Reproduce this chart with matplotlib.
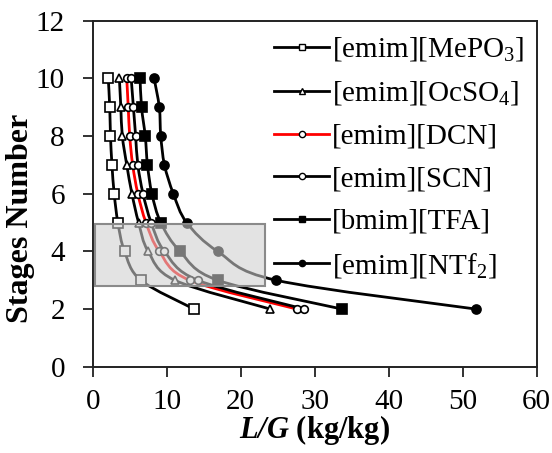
import numpy as np
import matplotlib
matplotlib.use("Agg")
import matplotlib.pyplot as plt
from matplotlib.path import Path
from matplotlib.patches import PathPatch, Rectangle
from matplotlib.lines import Line2D

plt.rcParams['font.family'] = ['Liberation Serif', 'DejaVu Serif']
plt.rcParams['mathtext.fontset'] = 'custom'
plt.rcParams['mathtext.rm'] = 'Liberation Serif'
plt.rcParams['mathtext.it'] = 'Liberation Serif:italic'
plt.rcParams['mathtext.bf'] = 'Liberation Serif:bold'
plt.rcParams['mathtext.bfit'] = 'Liberation Serif:italic:bold'

# Number of stages vs liquid-to-gas ratio for each ionic liquid
stages = [2, 3, 4, 5, 6, 7, 8, 9, 10]
mepo3 = [13.7, 6.5, 4.3, 3.4, 2.9, 2.6, 2.4, 2.3, 2.1]
ocso4 = [24.0, 11.1, 7.5, 6.2, 5.3, 4.6, 4.0, 3.8, 3.6]
dcn = [27.6, 13.1, 9.0, 7.2, 6.1, 5.4, 5.0, 4.8, 4.6]
scn = [28.6, 14.2, 9.7, 7.9, 6.8, 6.1, 5.8, 5.5, 5.2]
tfa = [33.7, 16.9, 11.8, 9.2, 8.0, 7.4, 7.1, 6.6, 6.4]
ntf2 = [51.8, 24.8, 16.9, 12.7, 10.9, 9.7, 9.2, 9.0, 8.3]

labels = ['[emim][MePO$_3$]', '[emim][OcSO$_4$]', '[emim][DCN]',
          '[emim][SCN]', '[bmim][TFA]', '[emim][NTf$_2$]']
series = [mepo3, ocso4, dcn, scn, tfa, ntf2]

# highlighted region (x0, x1, y0, y1)
region_x = [0.3, 23.3]
region_y = [2.8, 4.95]

styles = [
    dict(color='black', marker='s', mfc='white', ms=6.5),
    dict(color='black', marker='^', mfc='white', ms=5.5),
    dict(color='#ff0000', marker='o', mfc='white', mec='black', ms=5.5),
    dict(color='black', marker='o', mfc='white', ms=5.5),
    dict(color='black', marker='s', mfc='black', ms=6.5),
    dict(color='black', marker='o', mfc='black', ms=6.5),
]

fig = plt.figure(figsize=(5.52, 4.53), dpi=100)
ax = fig.add_axes([0.168, 0.1905, 0.804, 0.7635])
ax.set_xlim(0, 60)
ax.set_ylim(0, 12)

XR, YR = 60.0, 12.0
SX, SY = 444.0, 346.0


def smooth_path(xs, ys):
    """Catmull-Rom curve through the points, built as cubic Bezier segments."""
    px = np.asarray(xs, float) / XR * SX
    py = np.asarray(ys, float) / YR * SY
    pts = np.column_stack([px, py])
    n = len(pts)
    verts = [pts[0]]
    codes = [Path.MOVETO]
    for i in range(n - 1):
        p0 = pts[i - 1] if i > 0 else pts[i]
        p1 = pts[i]
        p2 = pts[i + 1]
        p3 = pts[i + 2] if i + 2 < n else pts[i + 1]
        c1 = p1 + (p2 - p0) / 6.0
        c2 = p2 - (p3 - p1) / 6.0
        verts += [c1, c2, p2]
        codes += [Path.CURVE4] * 3
    verts = np.array(verts)
    verts[:, 0] = verts[:, 0] / SX * XR
    verts[:, 1] = verts[:, 1] / SY * YR
    return Path(verts, codes)


handles = []
for vals, st, lab in zip(series, styles, labels):
    patch = PathPatch(smooth_path(vals, stages), facecolor='none',
                      edgecolor=st['color'], lw=2.0, zorder=2,
                      capstyle='round', joinstyle='round')
    ax.add_patch(patch)
    ax.plot(vals, stages, linestyle='none', marker=st['marker'],
            mfc=st['mfc'], mec=st.get('mec', 'black'), mew=1.2,
            ms=st['ms'], zorder=3)
    handles.append(Line2D([], [], color=st['color'], lw=2.0,
                          marker=st['marker'], mfc=st['mfc'],
                          mec=st.get('mec', 'black'), mew=1.0, ms=4.5,
                          label=lab))

ax.add_patch(Rectangle((region_x[0], region_y[0]),
                       region_x[1] - region_x[0], region_y[1] - region_y[0],
                       facecolor=(0.81, 0.81, 0.81, 0.58),
                       edgecolor='#8a8a8a', lw=1.5, zorder=4))

ax.set_xticks(np.arange(0, 61, 10))
ax.set_yticks(np.arange(0, 13, 2))
ax.tick_params(direction='out', length=7, width=1.3, labelsize=21,
               colors='#222222', labelcolor='black')
ax.tick_params(axis='y', pad=13)
ax.tick_params(axis='x', pad=9)
for sp in ax.spines.values():
    sp.set_linewidth(1.4)
    sp.set_color('#222222')

ax.set_ylabel('Stages Number', fontsize=23, fontweight='bold')
ax.yaxis.set_label_coords(-0.13, 0.43)
ax.set_xlabel(r'$\mathbfit{L/G}$ (kg/kg)', fontsize=22, fontweight='bold')
ax.xaxis.set_label_coords(0.5, -0.135)

leg = ax.legend(handles=handles, loc='upper left',
                bbox_to_anchor=(0.408, 0.958), frameon=False, fontsize=21,
                handlelength=1.9, handletextpad=0.1, labelspacing=0.55,
                borderaxespad=0.0, borderpad=0.0)

fig.savefig('out.png', dpi=100)
